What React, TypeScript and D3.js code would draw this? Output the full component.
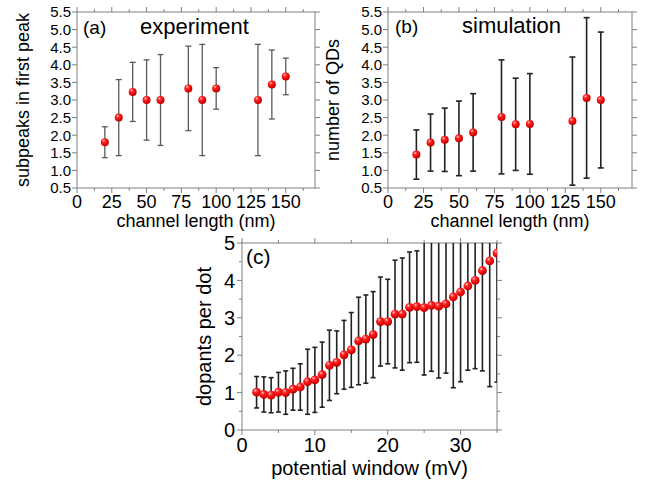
import React from 'react';
import * as d3 from 'd3';

// channel length (nm) shared by panels (a) and (b)
const channelLen = [20, 30, 40, 50, 60, 80, 90, 100, 130, 140, 150];
// (a) experiment: subpeaks in first peak
const expMean = [1.8, 2.5, 3.23, 3.0, 3.0, 3.33, 3.0, 3.33, 3.0, 3.44, 3.67];
const expErr = [0.44, 1.08, 0.84, 1.14, 1.29, 1.2, 1.58, 0.59, 1.58, 0.98, 0.52];
// (b) simulation: number of QDs
const simMean = [1.45, 1.79, 1.87, 1.91, 2.08, 2.52, 2.31, 2.32, 2.4, 3.06, 3.0];
const simErr = [0.7, 0.81, 0.9, 1.06, 1.1, 1.62, 1.31, 1.43, 1.82, 2.28, 1.93];
// (c) dopants per dot vs potential window (mV)
const windowMv = [2, 3, 4, 5, 6, 7, 8, 9, 10, 11, 12, 13, 14, 15, 16, 17, 18, 19, 20, 21, 22, 23, 24, 25, 26, 27, 28, 29, 30, 31, 32, 33, 34, 35];
const dopMean = [1.01, 0.95, 0.93, 1.01, 1.0, 1.09, 1.15, 1.29, 1.34, 1.48, 1.73, 1.81, 2.01, 2.14, 2.38, 2.43, 2.55, 2.9, 2.9, 3.1, 3.1, 3.28, 3.3, 3.27, 3.33, 3.31, 3.37, 3.56, 3.69, 3.85, 4.0, 4.26, 4.52, 4.73];
const dopErr = [0.42, 0.47, 0.47, 0.53, 0.58, 0.56, 0.62, 0.87, 0.87, 0.87, 0.94, 0.84, 0.92, 1.0, 1.17, 1.18, 1.15, 1.19, 1.13, 1.44, 1.5, 1.48, 1.49, 1.8, 1.76, 1.92, 1.85, 2.43, 2.4, 2.25, 2.36, 2.68, 3.36, 3.45];

const lenMajor = [0, 25, 50, 75, 100, 125, 150];
const lenMinor = [12.5, 37.5, 62.5, 87.5, 112.5, 137.5, 162.5];
const halfTicks = [0.5, 1.0, 1.5, 2.0, 2.5, 3.0, 3.5, 4.0, 4.5, 5.0, 5.5];
const winMajor = [0, 10, 20, 30];
const winMinor = [5, 15, 25, 35];
const dopMajor = [0, 1, 2, 3, 4, 5];
const dopMinor = [0.5, 1.5, 2.5, 3.5, 4.5];

const FONT = '"Liberation Sans", Arial, sans-serif';

type PanelProps = {
  id: string;
  box: [number, number, number, number]; // left, right, top, bottom
  xDomain: [number, number];
  yDomain: [number, number];
  xMajor: number[];
  xMinor: number[];
  yMajor: number[];
  yMinor: number[];
  yFmt: (v: number) => string;
  xs: number[];
  means: number[];
  errs: number[];
  fs: number;
  yFs: number;
  errColor: string;
  errWidth: number;
  cap: number;
  r: number;
  label: string;
  labelDx: number;
  labelY: number;
  title?: string;
  titleDx?: number;
  xTitle: string;
  yTitle: string;
  yTickGap: number;
  xTickY: number;
  xTitleY: number;
  yTitleX: number;
};

function Panel(p: PanelProps) {
  const [l, r, t, b] = p.box;
  const x = d3.scaleLinear().domain(p.xDomain).range([l, r]);
  const y = d3.scaleLinear().domain(p.yDomain).range([b, t]);
  const axisColor = '#808080';
  const maj = 5;
  const mnr = 3;
  return (
    <g>
      <defs>
        <clipPath id={`clip-${p.id}`}>
          <rect x={l} y={t} width={r - l} height={b - t} />
        </clipPath>
      </defs>
      {/* frame */}
      <rect x={l} y={t} width={r - l} height={b - t} fill="none" stroke={axisColor} strokeWidth={1} />
      {p.xMajor.map((v) => (
        <g key={`xM${v}`} stroke={axisColor}>
          <line x1={x(v)} x2={x(v)} y1={b} y2={b + maj} />
          <line x1={x(v)} x2={x(v)} y1={t} y2={t - maj} />
        </g>
      ))}
      {p.xMinor.filter((v) => v <= p.xDomain[1]).map((v) => (
        <g key={`xm${v}`} stroke={axisColor}>
          <line x1={x(v)} x2={x(v)} y1={b} y2={b + mnr} />
          <line x1={x(v)} x2={x(v)} y1={t} y2={t - mnr} />
        </g>
      ))}
      {p.yMajor.map((v) => (
        <g key={`yM${v}`} stroke={axisColor}>
          <line x1={l} x2={l - maj} y1={y(v)} y2={y(v)} />
          <line x1={r} x2={r + maj} y1={y(v)} y2={y(v)} />
        </g>
      ))}
      {p.yMinor.map((v) => (
        <g key={`ym${v}`} stroke={axisColor}>
          <line x1={l} x2={l - mnr} y1={y(v)} y2={y(v)} />
          <line x1={r} x2={r + mnr} y1={y(v)} y2={y(v)} />
        </g>
      ))}
      {p.xMajor.map((v) => (
        <text key={`xl${v}`} x={x(v)} y={p.xTickY} textAnchor="middle" fontSize={p.fs} fontFamily={FONT} fill="#000">
          {v}
        </text>
      ))}
      {p.yMajor.map((v) => (
        <text key={`yl${v}`} x={l - p.yTickGap} y={y(v)} dy="0.36em" textAnchor="end" fontSize={p.yFs} fontFamily={FONT} fill="#000">
          {p.yFmt(v)}
        </text>
      ))}
      <text x={(l + r) / 2} y={p.xTitleY} textAnchor="middle" fontSize={p.fs} fontFamily={FONT}>
        {p.xTitle}
      </text>
      <text transform={`translate(${p.yTitleX},${(t + b) / 2}) rotate(-90)`} textAnchor="middle" fontSize={p.fs} fontFamily={FONT}>
        {p.yTitle}
      </text>
      <text x={l + p.labelDx} y={p.labelY} fontSize={p.fs + 1} fontFamily={FONT}>
        {p.label}
      </text>
      {p.title && (
        <text x={l + (p.titleDx || 0)} y={p.labelY} fontSize={p.fs + 4} fontFamily={FONT}>
          {p.title}
        </text>
      )}
      <g clipPath={`url(#clip-${p.id})`}>
        {p.xs.map((xv, i) => {
          const hi = p.means[i] + p.errs[i];
          const lo = p.means[i] - p.errs[i];
          return (
            <g key={`e${i}`} stroke={p.errColor} strokeWidth={p.errWidth}>
              <line x1={x(xv)} x2={x(xv)} y1={y(hi)} y2={y(lo)} />
              <line x1={x(xv) - p.cap / 2} x2={x(xv) + p.cap / 2} y1={y(hi)} y2={y(hi)} />
              <line x1={x(xv) - p.cap / 2} x2={x(xv) + p.cap / 2} y1={y(lo)} y2={y(lo)} />
            </g>
          );
        })}
        {p.xs.map((xv, i) => (
          <circle key={`d${i}`} cx={x(xv)} cy={y(p.means[i])} r={p.r} fill="url(#ball)" />
        ))}
      </g>
    </g>
  );
}

export default function App() {
  const fmt1 = (v: number) => v.toFixed(1);
  return (
    <svg width={646} height={485} style={{ position: 'absolute', left: 0, top: 0, background: '#fff' }}>
      <defs>
        <radialGradient id="ball" cx="0.4" cy="0.35" r="0.65" fx="0.35" fy="0.3">
          <stop offset="0" stopColor="#ffd6d6" />
          <stop offset="0.3" stopColor="#ff2a2a" />
          <stop offset="0.8" stopColor="#e00000" />
          <stop offset="1" stopColor="#b00000" />
        </radialGradient>
      </defs>
      <Panel
        id="a"
        box={[77, 315, 12, 188]}
        xDomain={[0, 171]}
        yDomain={[0.5, 5.5]}
        xMajor={lenMajor}
        xMinor={lenMinor}
        yMajor={halfTicks}
        yMinor={[]}
        yFmt={fmt1}
        xs={channelLen}
        means={expMean}
        errs={expErr}
        fs={18}
        yFs={15}
        errColor="#5a5a5a"
        errWidth={1.3}
        cap={6}
        r={4}
        label="(a)"
        labelDx={6}
        labelY={34}
        title="experiment"
        titleDx={63}
        xTitle="channel length (nm)"
        yTitle="subpeaks in first peak"
        yTickGap={6}
        xTickY={208}
        xTitleY={227}
        yTitleX={29}
      />
      <Panel
        id="b"
        box={[388, 632, 12, 188]}
        xDomain={[0, 172]}
        yDomain={[0.5, 5.5]}
        xMajor={lenMajor}
        xMinor={lenMinor}
        yMajor={halfTicks}
        yMinor={[]}
        yFmt={fmt1}
        xs={channelLen}
        means={simMean}
        errs={simErr}
        fs={18}
        yFs={15}
        errColor="#222"
        errWidth={1.6}
        cap={6}
        r={4}
        label="(b)"
        labelDx={7}
        labelY={33}
        title="simulation"
        titleDx={74}
        xTitle="channel length (nm)"
        yTitle="number of QDs"
        yTickGap={6}
        xTickY={208}
        xTitleY={227}
        yTitleX={339}
      />
      <Panel
        id="c"
        box={[242, 497, 243, 430]}
        xDomain={[0, 35]}
        yDomain={[0, 5]}
        xMajor={winMajor}
        xMinor={winMinor}
        yMajor={dopMajor}
        yMinor={dopMinor}
        yFmt={(v) => String(v)}
        xs={windowMv}
        means={dopMean}
        errs={dopErr}
        fs={20}
        yFs={20}
        errColor="#222"
        errWidth={1.6}
        cap={5}
        r={4.4}
        label="(c)"
        labelDx={4}
        labelY={264}
        xTitle="potential window (mV)"
        yTitle="dopants per dot"
        yTickGap={7}
        xTickY={452}
        xTitleY={475}
        yTitleX={211}
      />
    </svg>
  );
}
